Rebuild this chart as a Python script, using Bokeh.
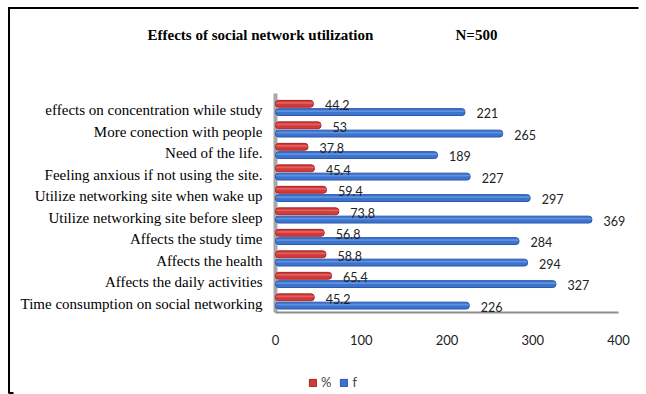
from bokeh.plotting import figure
from bokeh.models import ColumnDataSource, Range1d, Legend, LegendItem
from bokeh.transform import dodge
from bokeh.core.properties import value
from bokeh.embed import file_html
from bokeh.resources import INLINE

# ---- data (top to bottom as in the chart) ----
categories = [
    "effects on concentration while study",
    "More conection with people",
    "Need of the life.",
    "Feeling anxious if not using the site.",
    "Utilize networking site when wake up",
    "Utilize networking site before sleep",
    "Affects the study time",
    "Affects the health",
    "Affects the daily activities",
    "Time consumption on social networking",
]
pct = [44.2, 53, 37.8, 45.4, 59.4, 73.8, 56.8, 58.8, 65.4, 45.2]
freq = [221, 265, 189, 227, 297, 369, 284, 294, 327, 226]
x_ticks = [0, 100, 200, 300, 400]
series_names = ["%", "f"]
title_text = "Effects of social network  utilization"
n_text = "N=500"

RED = "#D23A3A"
BLUE = "#3B73CF"
W, H = 646, 394

# ---- layout: the plotting frame covers the whole canvas ----
# x: value 0 at 275 px, value 400 at 618 px; y: row index, row 0 centred at 107.5 px, 21.5 px per row
PX_PER_X = (618 - 275) / 400.0
X0 = 275
PX_PER_ROW = 21.5
ROW0 = 107.5


def xd(px):
    return (px - X0) / PX_PER_X


def yd(py):
    return (py - ROW0) / PX_PER_ROW


n = len(categories)
rows = list(range(n))
src = ColumnDataSource(dict(
    row=rows, cat=categories, pct=pct, freq=freq,
    pct_lbl=[f"{v:g}" for v in pct], freq_lbl=[str(v) for v in freq],
))
tick_src = ColumnDataSource(dict(v=x_ticks, lbl=[str(t) for t in x_ticks]))

p = figure(width=W, height=H, output_backend="svg", toolbar_location=None,
           x_range=Range1d(xd(0), xd(W)), y_range=Range1d(yd(H), yd(0)),
           x_axis_location=None, y_axis_location=None,
           min_border=0, min_border_left=0, min_border_right=0,
           min_border_top=0, min_border_bottom=0)
p.outline_line_color = None
p.background_fill_color = "white"
p.border_fill_color = "white"
p.xgrid.visible = False
p.ygrid.visible = False

# 3-D style wall and floor
p.segment(x0=[0], y0=[yd(93)], x1=[0], y1=[yd(312)], line_color="#A8A8A8", line_width=4)
p.segment(x0=[0], y0=[yd(312)], x1=[x_ticks[-1]], y1=[yd(312)], line_color="#8C8C8C", line_width=2)

r_red = p.hbar(y=dodge("row", -0.195), left=0, right="pct", height=0.32, source=src,
               fill_color=RED, line_color="#A52828", line_width=1, border_radius=3)
r_blue = p.hbar(y=dodge("row", 0.19), left=0, right="freq", height=0.32, source=src,
                fill_color=BLUE, line_color="#2A58A8", line_width=1, border_radius=3)
# light sheen along the upper part of each bar
p.hbar(y=dodge("row", -0.24), left=0.5, right="pct", height=0.08, source=src,
       fill_color="#F08080", fill_alpha=0.55, line_color=None, border_radius=1)
p.hbar(y=dodge("row", 0.145), left=0.5, right="freq", height=0.08, source=src,
       fill_color="#7FA8EC", fill_alpha=0.55, line_color=None, border_radius=1)

# value labels
p.text(x="pct", y=dodge("row", -0.12), text="pct_lbl", source=src,
       x_offset=11.5, text_align="left", text_baseline="middle",
       text_font=value("Lato"), text_font_size="12.5px", text_color="#222222")
p.text(x="freq", y=dodge("row", 0.245), text="freq_lbl", source=src,
       x_offset=11.5, text_align="left", text_baseline="middle",
       text_font=value("Lato"), text_font_size="12.5px", text_color="#222222")

# category labels
p.text(x=xd(262), y=dodge("row", 0.1), text="cat", source=src,
       text_align="right", text_baseline="middle",
       text_font=value("Liberation Serif"), text_font_size="15px", text_color="black")

# x tick labels
p.text(x="v", y=yd(339), text="lbl", source=tick_src,
       text_align="center", text_baseline="middle",
       text_font=value("Lato"), text_font_size="13px", text_color="#222222")

# title
p.text(x=[xd(147)], y=[yd(34)], text=[title_text], text_align="left", text_baseline="middle",
       text_font=value("Liberation Serif"), text_font_size="15px", text_font_style="bold",
       text_color="black")
p.text(x=[xd(455)], y=[yd(34)], text=[n_text], text_align="left", text_baseline="middle",
       text_font=value("Liberation Serif"), text_font_size="15px", text_font_style="bold",
       text_color="black")

# outer border: top and left lines with small bottom hook
p.segment(x0=[xd(7.5), xd(8.5), xd(8.5)], y0=[yd(7.5), yd(6.5), yd(392.5)],
          x1=[xd(638), xd(8.5), xd(13)], y1=[yd(7.5), yd(393), yd(392.5)],
          line_color="black", line_width=2)

legend = Legend(items=[LegendItem(label=series_names[0], renderers=[r_red]),
                       LegendItem(label=series_names[1], renderers=[r_blue])],
                orientation="horizontal", location=(308, 4),
                glyph_width=9, glyph_height=9, label_standoff=4, spacing=8,
                label_height=12, label_width=8,
                padding=0, margin=0, border_line_color=None, background_fill_alpha=0,
                label_text_font="Lato", label_text_font_size="13px")
p.add_layout(legend, "center")

open("out.html", "w").write(file_html(p, INLINE))
